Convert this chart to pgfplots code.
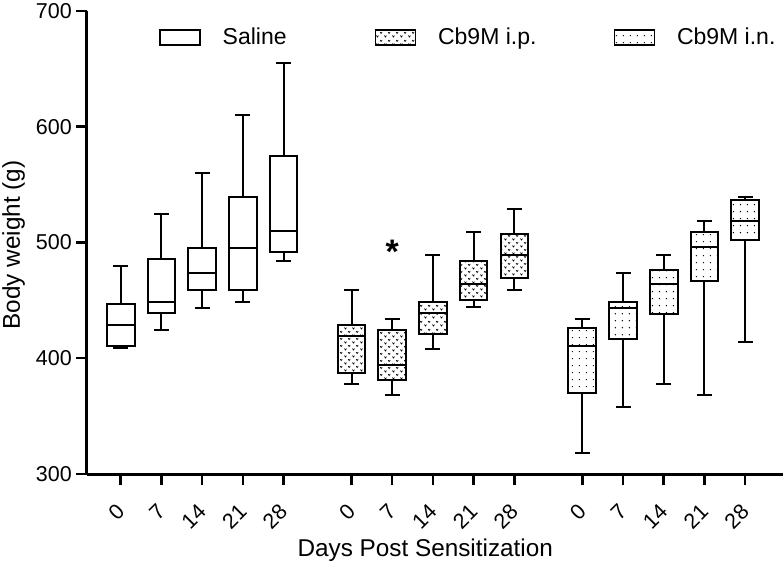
\documentclass[border=0pt]{standalone}
\usepackage{pgfplots}
\usepackage{pgfplotstable}
\pgfplotsset{compat=1.18}
\usetikzlibrary{patterns}
\usepackage{fontspec}
\setmainfont{Liberation Sans}

\pgfdeclarepatternformonly{ipv}{\pgfqpoint{0pt}{0pt}}{\pgfqpoint{8pt}{7.4pt}}{\pgfqpoint{8pt}{7.4pt}}{%
  \pgfsetlinewidth{0.7pt}%
  \pgfpathmoveto{\pgfqpoint{0.5pt}{2.6pt}}\pgfpathlineto{\pgfqpoint{1.6pt}{1pt}}\pgfpathlineto{\pgfqpoint{2.7pt}{2.6pt}}%
  \pgfpathmoveto{\pgfqpoint{4.5pt}{6.3pt}}\pgfpathlineto{\pgfqpoint{5.6pt}{4.7pt}}\pgfpathlineto{\pgfqpoint{6.7pt}{6.3pt}}%
  \pgfusepath{stroke}}
\pgfdeclarepatternformonly{indots}{\pgfqpoint{0pt}{0pt}}{\pgfqpoint{7.3pt}{7.3pt}}{\pgfqpoint{7.3pt}{7.3pt}}{%
  \pgfpathcircle{\pgfqpoint{3.65pt}{3.65pt}}{0.8pt}\pgfusepath{fill}}

% x = draw position, lw = lower whisker, q1, med, q3, uw = upper whisker
\pgfplotstableread{
x     lw  q1  med q3  uw
0     409 411 429 447 480
1     424 439 449 486 525
2     443 459 474 495 560
3     449 459 495 539 610
4     484 492 510 575 655
}\saline
\pgfplotstableread{
x     lw  q1  med q3  uw
5.67  378 387 419 429 459
6.67  368 381 394 424 434
7.67  408 421 439 449 489
8.67  444 450 464 484 509
9.67  459 469 489 507 529
}\ipdata
\pgfplotstableread{
x     lw  q1  med q3  uw
11.34 318 370 411 426 434
12.34 358 417 443 449 474
13.34 378 438 464 476 489
14.34 368 467 496 509 519
15.34 414 502 519 537 539
}\indata

\pgfplotsset{
  whisk/.style={draw=none, mark=none, forget plot,
    error bars/.cd, y dir=both, y explicit, error mark=|,
    error bar style={draw=black, solid, line width=2pt},
    error mark options={draw=black, solid, line width=2pt, mark size=7.5pt}},
  boxsty/.style={black, solid, line width=2pt, fill=white, forget plot},
  medsty/.style={draw=none, mark=-, mark size=13.85pt, forget plot,
    mark options={draw=black, solid, line width=2pt}},
}

\begin{document}
\begin{tikzpicture}
\begin{axis}[
  scale only axis,
  width=696pt, height=463pt,
  xmin=-0.828, xmax=16.27,
  ymin=300, ymax=700,
  axis lines=left,
  axis line style={-, line width=3pt},
  tick align=outside,
  major tick length=11pt,
  tick style={black, line width=2.5pt},
  ytick={300,400,500,600,700},
  xtick={0,1,2,3,4,5.67,6.67,7.67,8.67,9.67,11.34,12.34,13.34,14.34,15.34},
  xticklabels={0,7,14,21,28,0,7,14,21,28,0,7,14,21,28},
  /pgf/number format/assume math mode=true,
  yticklabel style={font=\fontsize{21.5}{25}\selectfont, inner sep=0pt},
  yticklabel shift=4pt,
  xticklabel style={font=\fontsize{21.5}{25}\selectfont, rotate=45, anchor=east, inner sep=0pt},
  xticklabel shift=23pt,
  xlabel={Days Post Sensitization},
  ylabel={Body weight (g)},
  label style={font=\fontsize{24.3}{28}\selectfont},
  xlabel style={at={(axis description cs:0.486,-0.179)}, anchor=base},
  ylabel style={at={(axis description cs:-0.0963,0.4946)}, anchor=base},
  clip=false,
  legend columns=3,
  legend image code/.code={\draw[line width=1.5pt,#1] (0pt,-7.5pt) rectangle (40pt,7.5pt);},
  legend style={draw=none, fill=none, at={(rel axis cs:0.1034,0.963)}, anchor=north west,
    font=\fontsize{23}{27}\selectfont, inner sep=0pt, nodes={inner sep=0pt},
    /tikz/every odd column/.append style={column sep=22pt},
    /tikz/every even column/.append style={column sep=77pt}},
]
\addlegendimage{black, fill=white}
\addlegendentry{Saline\hspace*{11pt}}
\addlegendimage{black, fill=white, postaction={pattern=ipv, pattern color=black}}
\addlegendentry{Cb9M i.p.}
\addlegendimage{black, fill=white, postaction={pattern=indots, pattern color=black}}
\addlegendentry{Cb9M i.n.}

% whiskers
\addplot[whisk] table[x=x, y=med, y error plus expr=\thisrow{uw}-\thisrow{med}, y error minus expr=\thisrow{med}-\thisrow{lw}] {\saline};
\addplot[whisk] table[x=x, y=med, y error plus expr=\thisrow{uw}-\thisrow{med}, y error minus expr=\thisrow{med}-\thisrow{lw}] {\ipdata};
\addplot[whisk] table[x=x, y=med, y error plus expr=\thisrow{uw}-\thisrow{med}, y error minus expr=\thisrow{med}-\thisrow{lw}] {\indata};

% boxes (q1 to q3, half width 0.34)
\addplot[boxsty] coordinates {(-0.34,411) (0.34,411) (0.34,447) (-0.34,447)} -- cycle;
\addplot[boxsty] coordinates {(0.66,439) (1.34,439) (1.34,486) (0.66,486)} -- cycle;
\addplot[boxsty] coordinates {(1.66,459) (2.34,459) (2.34,495) (1.66,495)} -- cycle;
\addplot[boxsty] coordinates {(2.66,459) (3.34,459) (3.34,539) (2.66,539)} -- cycle;
\addplot[boxsty] coordinates {(3.66,492) (4.34,492) (4.34,575) (3.66,575)} -- cycle;

\addplot[boxsty, postaction={pattern=ipv, pattern color=black}] coordinates {(5.33,387) (6.01,387) (6.01,429) (5.33,429)} -- cycle;
\addplot[boxsty, postaction={pattern=ipv, pattern color=black}] coordinates {(6.33,381) (7.01,381) (7.01,424) (6.33,424)} -- cycle;
\addplot[boxsty, postaction={pattern=ipv, pattern color=black}] coordinates {(7.33,421) (8.01,421) (8.01,449) (7.33,449)} -- cycle;
\addplot[boxsty, postaction={pattern=ipv, pattern color=black}] coordinates {(8.33,450) (9.01,450) (9.01,484) (8.33,484)} -- cycle;
\addplot[boxsty, postaction={pattern=ipv, pattern color=black}] coordinates {(9.33,469) (10.01,469) (10.01,507) (9.33,507)} -- cycle;

\addplot[boxsty, postaction={pattern=indots, pattern color=black}] coordinates {(11.00,370) (11.68,370) (11.68,426) (11.00,426)} -- cycle;
\addplot[boxsty, postaction={pattern=indots, pattern color=black}] coordinates {(12.00,417) (12.68,417) (12.68,449) (12.00,449)} -- cycle;
\addplot[boxsty, postaction={pattern=indots, pattern color=black}] coordinates {(13.00,438) (13.68,438) (13.68,476) (13.00,476)} -- cycle;
\addplot[boxsty, postaction={pattern=indots, pattern color=black}] coordinates {(14.00,467) (14.68,467) (14.68,509) (14.00,509)} -- cycle;
\addplot[boxsty, postaction={pattern=indots, pattern color=black}] coordinates {(15.00,502) (15.68,502) (15.68,537) (15.00,537)} -- cycle;

% medians
\addplot[medsty] table[x=x, y=med] {\saline};
\addplot[medsty] table[x=x, y=med] {\ipdata};
\addplot[medsty] table[x=x, y=med] {\indata};

\node[font=\bfseries\fontsize{34}{40}\selectfont, anchor=base] at (axis cs:6.67,482) {*};
\end{axis}
\pgfresetboundingbox
\path (-87pt,-90pt) rectangle (696pt,474pt);
\end{tikzpicture}
\end{document}
